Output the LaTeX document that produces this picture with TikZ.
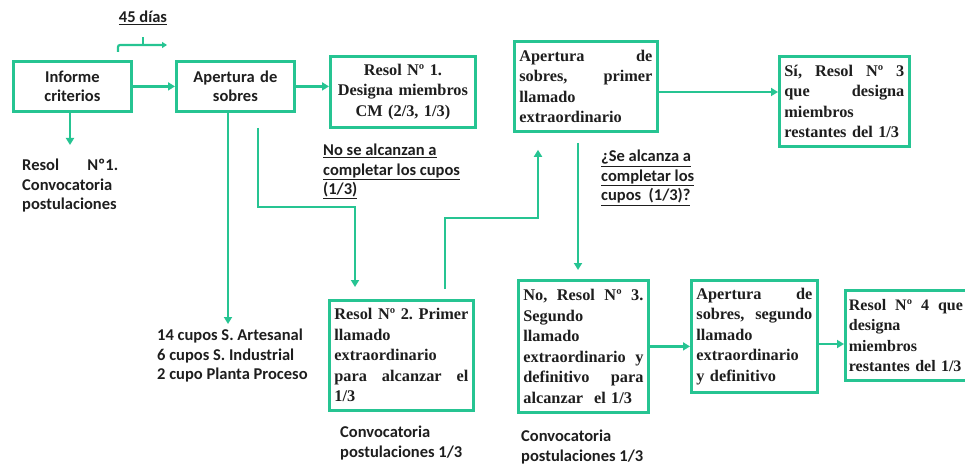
\documentclass[tikz,border=0pt]{standalone}
\usepackage{fontspec}
\setmainfont{Liberation Serif}
\newfontfamily\calib{Carlito}
\usetikzlibrary{arrows.meta,positioning,calc,shadows}
\definecolor{verde}{RGB}{38,196,146}
\definecolor{tinta}{RGB}{30,30,30}
\hyphenpenalty=10000

\begin{document}
\begin{tikzpicture}
[x=1pt,y=-1pt,
 linea/.style={draw=verde,line width=2.8pt},
 flecha/.style={linea,-{Triangle[length=7pt,width=8pt]}},
 caja/.style={draw=verde,line width=2.8pt,fill=white,anchor=north west,
   inner xsep=5pt,inner ysep=3pt,text=tinta,
   drop shadow={opacity=0.2,shadow xshift=1.5pt,shadow yshift=-1.5pt},
   font=\bfseries\fontsize{16.3}{20.5}\selectfont},
 cajasans/.style={caja,align=center,font=\calib\bfseries\fontsize{16.5}{19.5}\selectfont},
 nota/.style={anchor=north west,inner sep=0pt,align=left,text=tinta,
   font=\calib\bfseries\fontsize{16.5}{19.5}\selectfont}]
\useasboundingbox (0,0) rectangle (965,465);
% cajas
\node[cajasans,minimum width=118pt,minimum height=50pt,text width=106pt] (inf) at (12,60) {Informe\\criterios};
\node[cajasans,minimum width=118pt,minimum height=50pt,text width=106pt] (ape) at (175,60) {Apertura de\\sobres};
\node[caja,align=center,minimum width=145pt,minimum height=71pt,text width=134pt] (res1) at (329,55) {Resol Nº 1.\\Designa miembros\\CM (2/3, 1/3)};
\node[caja,align=left,minimum width=143pt,minimum height=90pt,text width=133pt] (ape1) at (513,40) {Apertura\hfill de\\sobres,\hfill primer\\llamado\\extraordinario};
\node[caja,align=left,minimum width=130pt,minimum height=90pt,text width=120pt] (si3) at (778,55) {Sí,\hfill Resol\hfill Nº\hfill 3\\que\hfill designa\\miembros\\restantes del 1/3};
\node[caja,align=left,minimum width=144pt,minimum height=110pt,text width=134pt] (res2) at (328,299) {Resol\hfill Nº\hfill 2.\hfill Primer\\llamado\\extraordinario\\para\hfill alcanzar\hfill el\\1/3};
\node[caja,align=left,minimum width=130pt,minimum height=132pt,text width=120pt] (no3) at (517,279) {No,\hfill Resol\hfill Nº\hfill 3.\\Segundo\\llamado\\extraordinario\hfill y\\definitivo\hfill para\\alcanzar \ el 1/3};
\node[caja,align=left,minimum width=126pt,minimum height=112pt,text width=116pt] (ape2) at (690,279) {Apertura\hfill de\\sobres,\hfill segundo\\llamado\\extraordinario\\y definitivo};
\node[caja,align=left,minimum width=121pt,minimum height=90pt,text width=114pt,inner xsep=3.5pt,
  font=\bfseries\fontsize{16}{20.5}\selectfont] (res4) at (844,289) {Resol\hfill Nº\hfill 4\hfill que\\designa\\miembros\\restantes del 1/3};
% textos
\node[nota,anchor=north] (dias) at (143,11) {\underline{45 días}};
\node[nota,text width=96pt] (conv1) at (22,159) {Resol\hfill Nº1.\\Convocatoria\\postulaciones};
\node[nota] (cupos) at (157,329) {14 cupos S. Artesanal\\6 cupos S. Industrial\\2 cupo Planta Proceso};
\node[nota] (noalc) at (323,144) {\underline{No se alcanzan a}\\\underline{completar los cupos}\\\underline{(1/3)}};
\node[nota] (sealc) at (601,150) {\underline{¿Se alcanza a}\\\underline{completar los}\\\underline{cupos \ (1/3)?}};
\node[nota] (conv2) at (340,426) {Convocatoria\\postulaciones 1/3};
\node[nota] (conv3) at (521,430) {Convocatoria\\postulaciones 1/3};
% quiebres
\coordinate (k1) at (258,207);
\coordinate (k2) at (355,207);
\coordinate (k3) at (445,218);
\coordinate (k4) at (538,218);
\coordinate (k5) at (578,200);
\coordinate (k6) at (700,92);
\coordinate (k7) at (830,344);
\coordinate (k8) at (228,200);
% llave de 45 dias
\draw[linea,line width=2.2pt,rounded corners=2pt,-{Triangle[length=5pt,width=6pt]}] (118,52) |- (167,45);
\draw[linea,line width=2.2pt] (dias.south |- 0,45) -- (dias.south |- 0,37);
% conectores
\draw[flecha] (inf) -- (ape);
\draw[flecha] (ape.east) -- (ape.east -| res1.west);
\draw[flecha,shorten >=14pt] (inf.south -| 70,0) -- (conv1.north -| 70,0);
\draw[flecha,shorten >=5pt] (ape.south -| k8) -- (cupos.north -| k8);
\draw[flecha,shorten <=15pt,shorten >=12pt] (ape.south -| k1) -- (k1) -- (k2) -- (res2.north -| k2);
\draw[flecha,shorten <=10pt,shorten >=17pt] (res2.north -| k3) -- (k3) -- (k4) -- (ape1.south -| k4);
\draw[flecha,shorten <=10pt,shorten >=9pt] (ape1.south -| k5) -- (no3.north -| k5);
\draw[flecha] (ape1.east |- k6) -- (si3.west |- k6);
\draw[flecha] (no3.east) -- (no3.east -| ape2.west);
\draw[flecha] (ape2.east |- k7) -- (res4.west |- k7);
\end{tikzpicture}
\end{document}
